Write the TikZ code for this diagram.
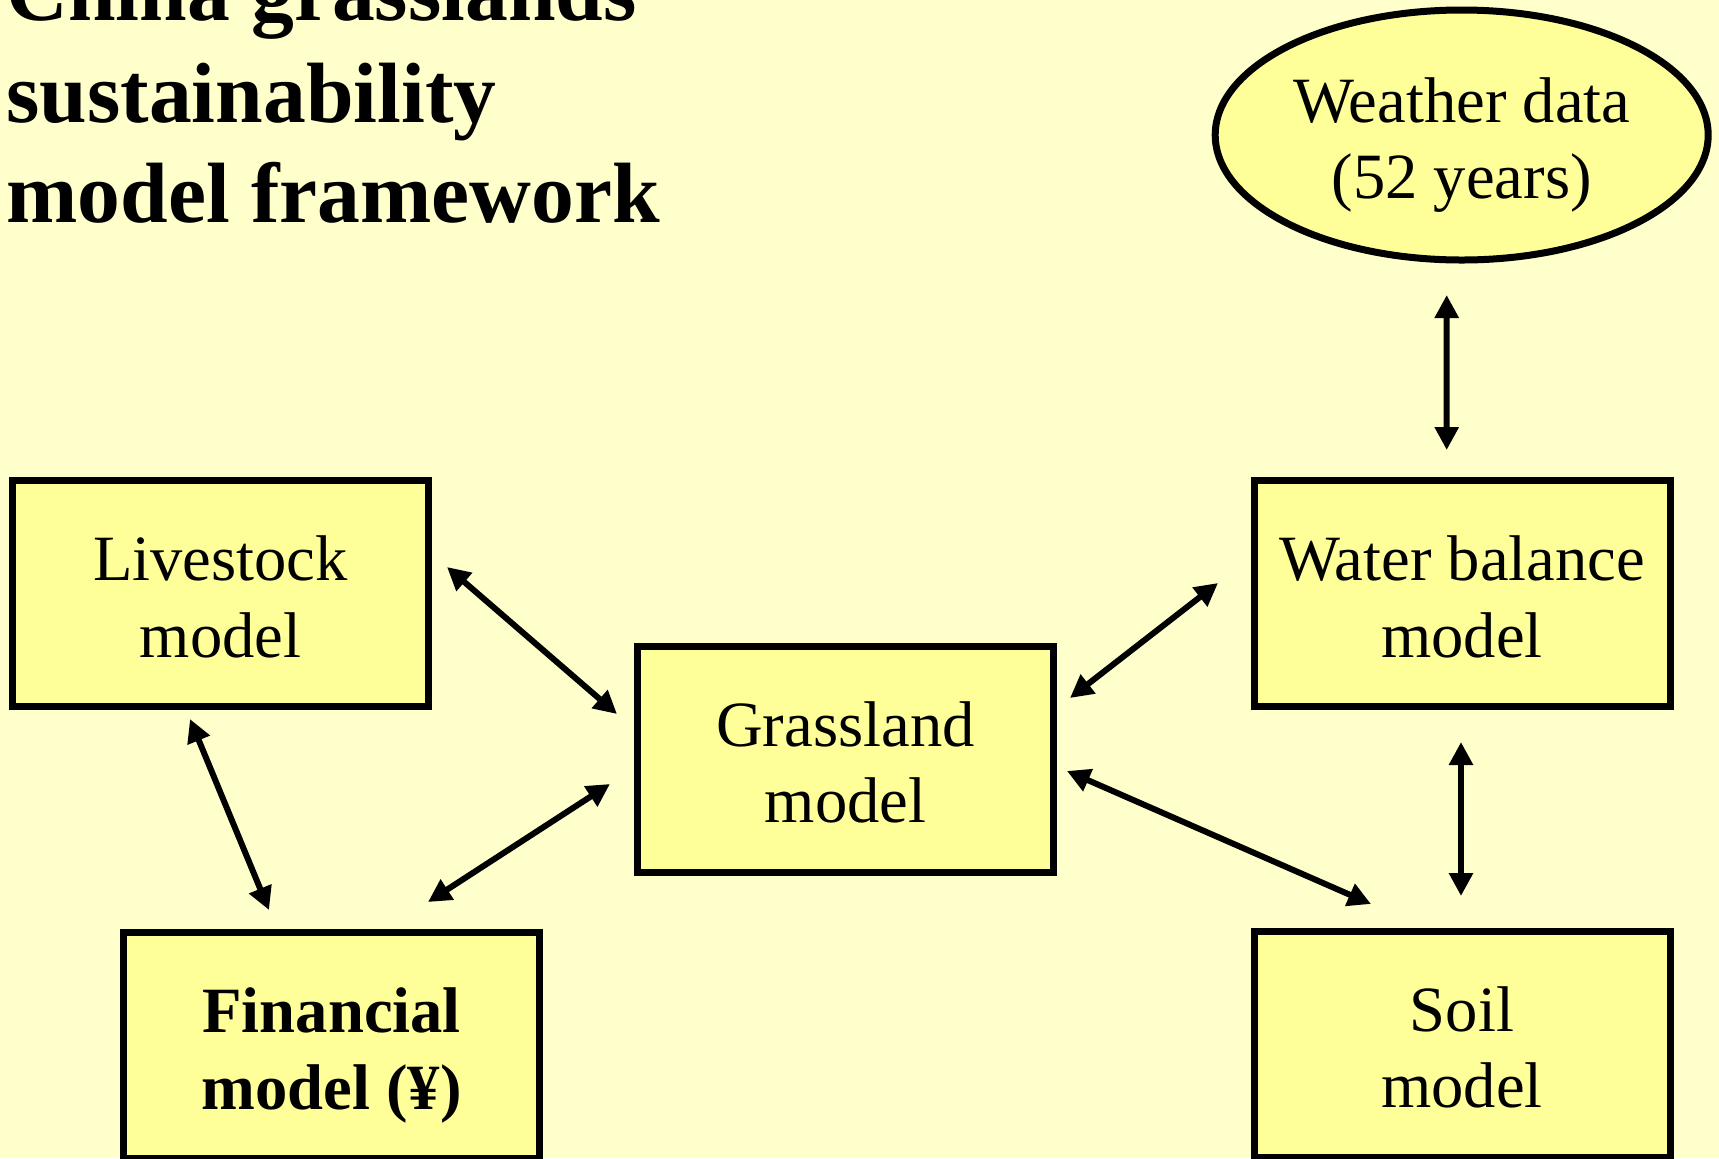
\documentclass[tikz,border=0pt]{standalone}
\usepackage{fontspec}
\setmainfont{Liberation Serif}
\usetikzlibrary{arrows.meta,shapes.geometric}
\definecolor{bgc}{HTML}{FFFFCC}
\definecolor{boxc}{HTML}{FFFF99}
\newcommand\mytop{\rule{0pt}{33.5pt}}
\newcommand\mybot{\rule[-8pt]{0pt}{8pt}}
\begin{document}
\begin{tikzpicture}[x=0.5pt,y=-0.5pt,
  box/.style={draw=black, line width=3.5pt, fill=boxc, rectangle, minimum width=208pt, minimum height=113pt, inner sep=0pt, align=center, font=\fontsize{32.3}{38.4}\selectfont},
  oval/.style={draw=black, line width=3.5pt, fill=boxc, ellipse, minimum width=246.5pt, minimum height=125pt, inner sep=0pt, align=center, font=\fontsize{32.3}{38.4}\selectfont},
  link/.style={{Triangle[length=11.5pt,width=11.5pt]}-{Triangle[length=11.5pt,width=11.5pt]}, line width=3pt},
  ttl/.style={anchor=base west, inner sep=0pt, font=\fontsize{42.8}{51}\selectfont\bfseries}]
\fill[bgc] (0,0) rectangle (1719,1158);
\useasboundingbox (0,0) rectangle (1719,1158);
% title
\node[ttl] (title1) at (6,20) {China grasslands};
\node[ttl] (title2) at (6,122) {sustainability};
\node[ttl] (title3) at (6,222) {model framework};
% nodes
\node[oval] (weather) at (1461.7,135) {\mytop Weather data\\(52 years)\mybot};
\node[box] (water) at (1462,593.5) {\mytop Water balance\\model\mybot};
\node[box] (livestock) at (220.5,593.5) {\mytop Livestock\\model\mybot};
\node[box] (grass) at (845.5,759) {\mytop Grassland\\model\mybot};
\node[box, font=\fontsize{32.3}{38.4}\selectfont\bfseries] (fin) at (331.7,1045.5) {\mytop Financial\\model (¥)\mybot};
\node[box] (soil) at (1462,1044) {\mytop Soil\\model\mybot};
% connectors
\draw[link] ([shift={(-15,160)}]weather.center) -- ([shift={(-15.3,-143.5)}]water.center);
\draw[link] ([shift={(226.5,-26.5)}]livestock.center) -- ([shift={(-228.5,-45)}]grass.center);
\draw[link] ([shift={(-244,-10.5)}]water.center) -- ([shift={(224.5,-61)}]grass.center);
\draw[link] ([shift={(-30.5,125.5)}]livestock.center) -- ([shift={(-62.7,-135.5)}]fin.center);
\draw[link] ([shift={(96.3,-143.5)}]fin.center) -- ([shift={(-235.5,25)}]grass.center);
\draw[link] ([shift={(221.5,12)}]grass.center) -- ([shift={(-91,-140)}]soil.center);
\draw[link] ([shift={(-1,148.5)}]water.center) -- ([shift={(-1,-148)}]soil.center);
\end{tikzpicture}
\end{document}
